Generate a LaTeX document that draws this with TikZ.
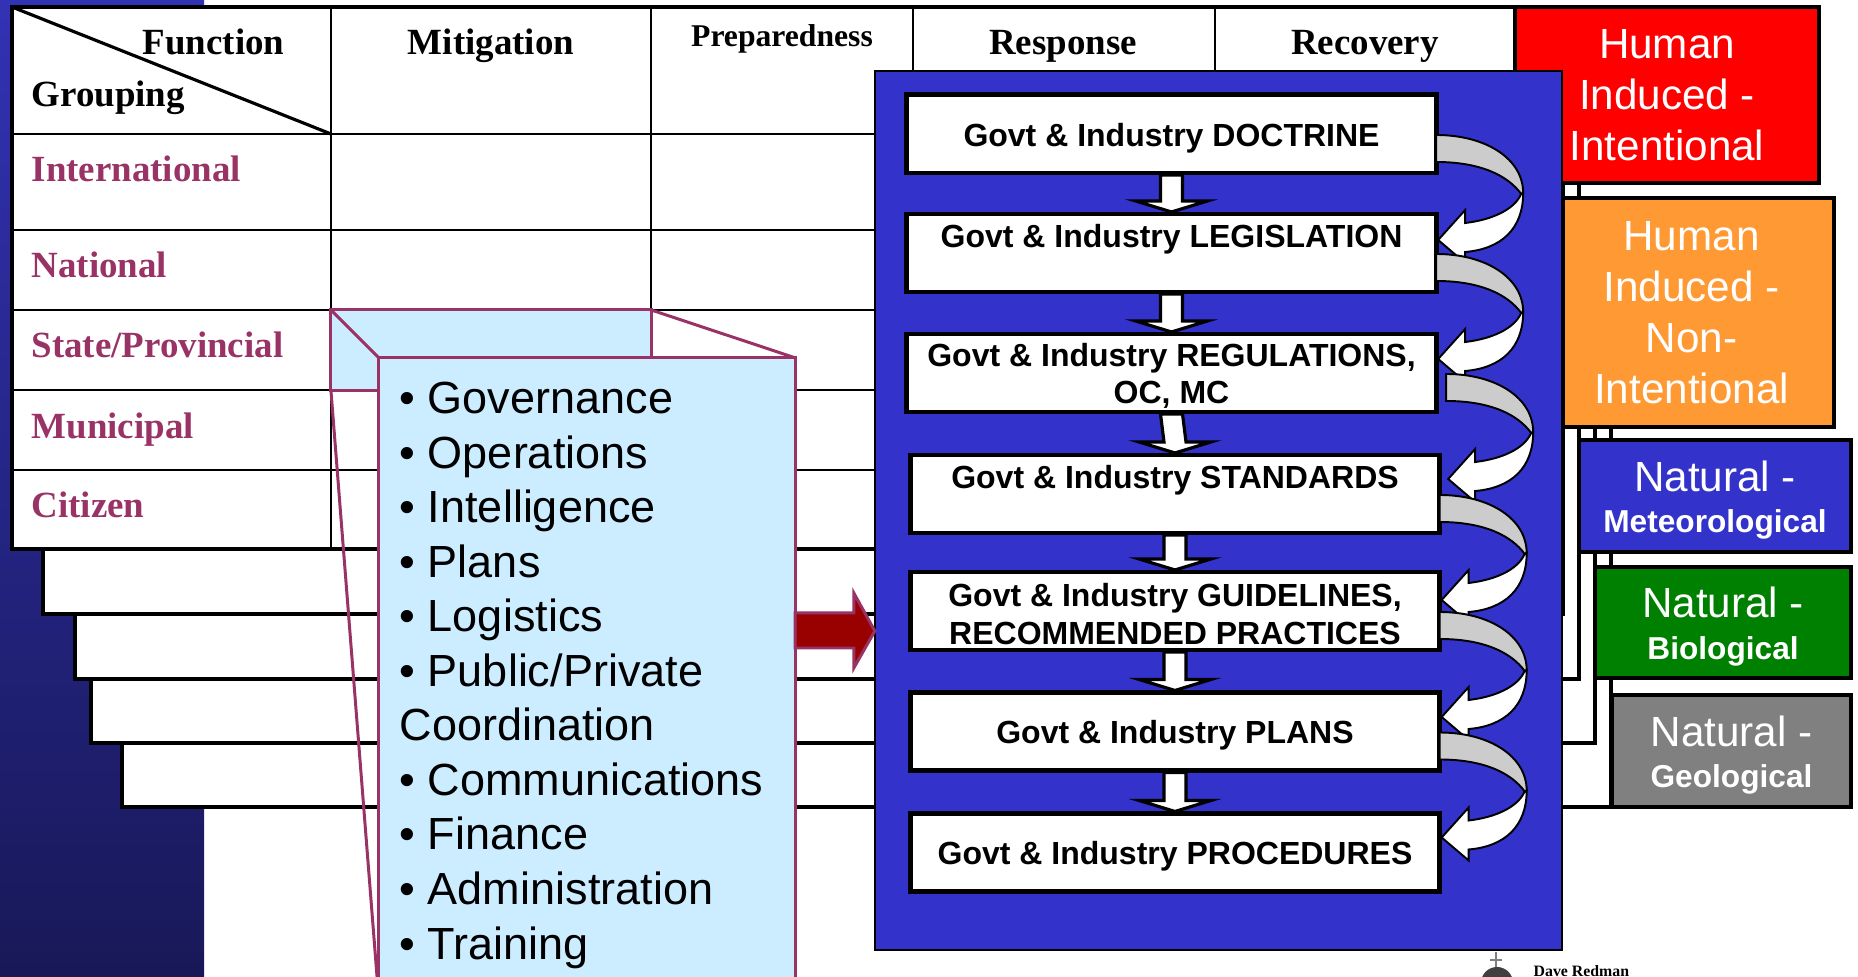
\documentclass[tikz,border=0pt]{standalone}
\usepackage{fontspec}
\setmainfont{Liberation Serif}
\newfontfamily\arialf{Liberation Sans}
\usetikzlibrary{calc}
\definecolor{navytop}{HTML}{3232B4}
\definecolor{navymid}{HTML}{20207A}
\definecolor{navybot}{HTML}{181858}
\definecolor{boxblue}{HTML}{3333CC}
\definecolor{plum}{HTML}{993366}
\definecolor{pale}{HTML}{CCECFF}
\definecolor{hzred}{HTML}{FF0000}
\definecolor{hzorange}{HTML}{FF9933}
\definecolor{hzgreen}{HTML}{008000}
\definecolor{hzgray}{HTML}{808080}
\definecolor{darkred}{HTML}{990000}
\definecolor{ribbon}{HTML}{CCCCCC}
\begin{document}
\begin{tikzpicture}[x=0.01cm, y=-0.01cm,
  sheet/.style={draw=black, fill=white, line width=1pt},
  gridline/.style={draw=black, line width=0.65pt},
  hazard/.style={draw=black, line width=1.1pt, inner sep=0pt, outer sep=0pt},
  hazardtext/.style={text=white, align=center, inner sep=0pt, font=\arialf\fontsize{12}{14.5}\selectfont},
  hdr/.style={font=\bfseries\fontsize{10.5}{12}\selectfont, inner sep=0pt, anchor=base},
  rowlab/.style={font=\bfseries\fontsize{10.5}{12}\selectfont, text=plum, anchor=base west, inner sep=0pt},
  listitem/.style={font=\arialf\fontsize{12.8}{15}\selectfont, anchor=base west, inner sep=0pt},
  flowbox/.style={draw=black, fill=white, line width=1.4pt, minimum width=5.29cm, minimum height=0.78cm, inner sep=0pt, outer sep=0pt},
  flowtext/.style={inner sep=0pt, align=center, font=\arialf\bfseries\fontsize{9.1}{10.6}\selectfont},
  downarrow/.style={draw=black, fill=white, line width=0.9pt, line join=miter},
  ribbonback/.style={draw=black, fill=ribbon, line width=0.55pt},
  ribbonfront/.style={draw=black, fill=white, line width=0.55pt},
  plumline/.style={draw=plum, line width=0.85pt},
  curv/.pic={
    \filldraw[ribbonback] (0,1) .. controls (50,1) and (87,25) .. (87,59)
      -- (85,60) .. controls (72,42) and (45,28) .. (0,28) -- cycle;
    \filldraw[ribbonfront] (87,59) .. controls (87,95) and (65,115) .. (29,118)
      -- (29,129) -- (2,106) -- (29,76) -- (29,89)
      .. controls (55,86) and (78,76) .. (85,60) -- cycle;
  }
]
\useasboundingbox (0,0) rectangle (1858,977);
\clip (0,0) rectangle (1858,977);

% navy side panel
\shade[top color=navytop, middle color=navymid, bottom color=navybot] (0,0) rectangle (204,977);

% stacked back tables with their hazard tabs
\path[sheet] (122,300) rectangle (1611,807);
\node[hazard, fill=hzgray, minimum width=2.39cm, minimum height=1.12cm] (hz5) at (1731.5,751) {};
\node[hazardtext] (hzt5) at ([yshift=-0.04cm]hz5.center)
  {Natural -\\[-2.8pt]{\bfseries\fontsize{9}{10}\selectfont Geological}};
\path[sheet] (91,300) rectangle (1595,743);
\node[hazard, fill=hzgreen, minimum width=2.56cm, minimum height=1.11cm] (hz4) at (1723,622.5) {};
\node[hazardtext] (hzt4) at ([yshift=-0.04cm]hz4.center)
  {Natural -\\[-2.8pt]{\bfseries\fontsize{9}{10}\selectfont Biological}};
\path[sheet] (75,20) rectangle (1579,679);
\node[hazard, fill=boxblue, minimum width=2.72cm, minimum height=1.12cm] (hz3) at (1715,496) {};
\node[hazardtext] (hzt3) at ([yshift=-0.04cm]hz3.center)
  {Natural -\\[-2.8pt]{\bfseries\fontsize{9}{10}\selectfont Meteorological}};
\path[sheet] (43,7) rectangle (1563,614);
\node[hazard, fill=hzorange, minimum width=2.71cm, minimum height=2.29cm] (hz2) at (1698.5,312.5) {};
\node[hazardtext] (hzt2) at ([xshift=-0.07cm]hz2.center) {Human\\Induced -\\Non-\\Intentional};

% front table
\path[draw=black, fill=white, line width=1.4pt] (12,7) rectangle (1515,549);
\draw[gridline, line width=0.5pt] (12,134) -- (1515,134);
\foreach \yy in {230,310,390,470} \draw[gridline] (12,\yy) -- (1515,\yy);
\foreach \xx in {331,651,913,1215} \draw[gridline] (\xx,7) -- (\xx,549);
\draw[black, line width=0.9pt] (12,7) -- (331,134);
\draw[black, line width=1.4pt] (12,7) rectangle (1515,549);
\node[hazard, fill=hzred, minimum width=3.04cm, minimum height=1.76cm] (hz1) at (1667,95) {};
\node[hazardtext] (hzt1) at (hz1.center) {Human\\Induced -\\Intentional};

\node[hdr, anchor=base west] (hfun) at (142,55) {Function};
\node[hdr, anchor=base west] (hgrp) at (31,107) {Grouping};
\node[hdr] (hmit) at (491,55) {Mitigation};
\node[hdr, font=\bfseries\fontsize{9}{10}\selectfont] (hpre) at (782,47) {Preparedness};
\node[hdr] (hres) at (1063,55) {Response};
\node[hdr] (hrec) at (1365,55) {Recovery};
\node[rowlab] (rint) at (31,182) {International};
\node[rowlab] (rnat) at (31,278) {National};
\node[rowlab] (rsta) at (31,358) {State/Provincial};
\node[rowlab] (rmun) at (31,439) {Municipal};
\node[rowlab] (rcit) at (31,518) {Citizen};

% magnified cell callout
\node[draw=plum, fill=pale, line width=0.85pt, minimum width=3.2cm, minimum height=0.8cm, inner sep=0pt, outer sep=0pt] (cell) at (491,350) {};
\node[draw=plum, fill=pale, line width=0.85pt, minimum width=4.16cm, minimum height=6.42cm, inner sep=0pt, outer sep=0pt] (zoom) at (587,679) {};
\draw[plumline] (cell.north west) -- (zoom.north west);
\draw[plumline] (cell.north east) -- (zoom.north east);
\draw[plumline] (cell.south west) -- (zoom.south west);
\foreach \t [count=\i from 0] in {{• Governance},{• Operations},{• Intelligence},{• Plans},{• Logistics},{• Public/Private},{Coordination},{• Communications},{• Finance},{• Administration},{• Training}}
  \node[listitem] (li\i) at (399,{414+\i*54.5}) {\t};

% blue panel
\node[draw=black, fill=boxblue, line width=0.6pt, minimum width=6.87cm, minimum height=8.79cm, inner sep=0pt, outer sep=0pt] (bluebox) at (1218.5,510.5) {};

% red arrow from callout to panel
\coordinate (ra) at (835,631);
\coordinate (rs) at (zoom.east |- ra);
\coordinate (rt) at (bluebox.west |- ra);
\filldraw[fill=darkred, draw=plum, line width=0.85pt, line join=miter]
  ([yshift=0.18cm]rs) -- ([xshift=-0.21cm,yshift=0.18cm]rt) -- ([xshift=-0.21cm,yshift=0.38cm]rt)
  -- (rt) -- ([xshift=-0.21cm,yshift=-0.37cm]rt) -- ([xshift=-0.21cm,yshift=-0.17cm]rt)
  -- ([yshift=-0.17cm]rs) -- cycle;

% flow boxes
\node[flowbox] (b1) at (1171.5,134) {};
\node[flowbox] (b2) at (1171.5,253) {};
\node[flowbox] (b3) at (1171.5,373) {};
\node[flowbox] (b4) at (1175,494) {};
\node[flowbox] (b5) at (1175,611) {};
\node[flowbox] (b6) at (1175,731.5) {};
\node[flowbox] (b7) at (1175,852.5) {};
\node[flowtext] (t1) at ([yshift=-0.04cm]b1.center) {Govt \& Industry DOCTRINE};
\node[flowtext] (t2) at ([yshift=-0.25cm]b2.north) {Govt \& Industry LEGISLATION};
\node[flowtext] (t3) at ([yshift=-0.03cm]b3.center) {Govt \& Industry REGULATIONS,\\OC, MC};
\node[flowtext] (t4) at ([yshift=-0.25cm]b4.north) {Govt \& Industry STANDARDS};
\node[flowtext] (t5) at ([yshift=-0.03cm]b5.center) {Govt \& Industry GUIDELINES,\\RECOMMENDED PRACTICES};
\node[flowtext] (t6) at ([yshift=-0.04cm]b6.center) {Govt \& Industry PLANS};
\node[flowtext] (t7) at ([yshift=-0.04cm]b7.center) {Govt \& Industry PROCEDURES};

% straight block arrows
\foreach \a/\b in {b1/b2,b2/b3,b3/b4,b4/b5,b5/b6,b6/b7}
  \filldraw[downarrow] ([xshift=-0.11cm,yshift=-0.02cm]\a.south) -- ([xshift=-0.11cm,yshift=0.13cm]\b.north)
    -- ([xshift=-0.36cm,yshift=0.13cm]\b.north) -- ([yshift=0.02cm]\b.north)
    -- ([xshift=0.36cm,yshift=0.13cm]\b.north) -- ([xshift=0.11cm,yshift=0.13cm]\b.north)
    -- ([xshift=0.11cm,yshift=-0.02cm]\a.south) -- cycle;

% curved ribbon arrows
\pic at (b1.east) {curv};
\pic at (b2.east) {curv};
\pic at ([xshift=0.1cm]b3.east) {curv};
\pic at (b4.east) {curv};
\pic at (b5.east) {curv};
\pic at (b6.east) {curv};

% credit
\fill[black!75] (1497,983) circle[radius=16];
\draw[black!50, line width=0.3pt] (1496,952) -- (1496,967) (1490,960) -- (1502,960);
\node[anchor=base west, inner sep=0pt, font=\bfseries\fontsize{4.5}{5}\selectfont] (credit) at (1533,977) {Dave Redman};
\end{tikzpicture}
\end{document}
